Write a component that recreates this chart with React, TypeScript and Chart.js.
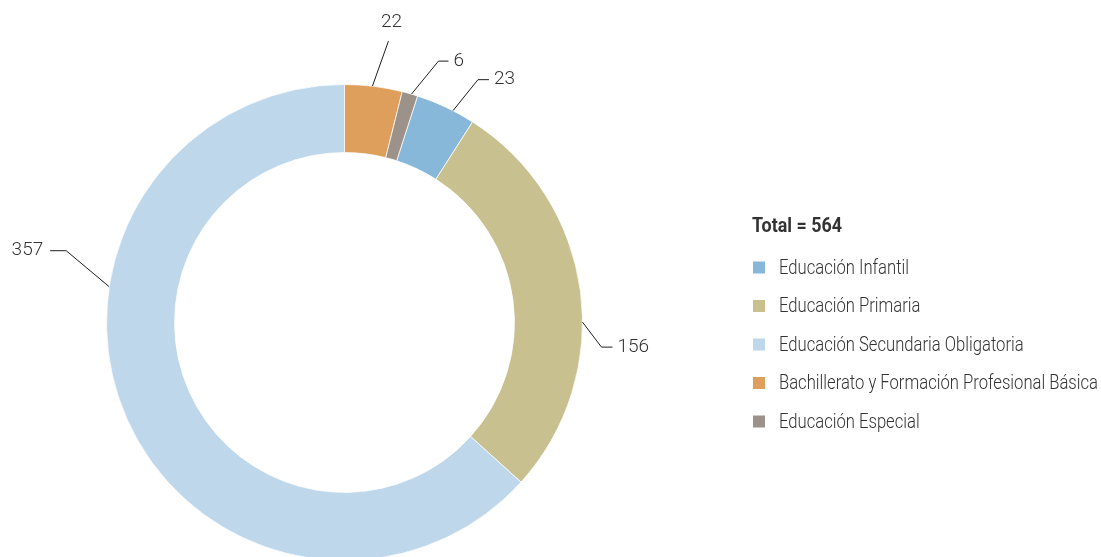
import { useEffect, useRef } from "react";
import { Chart, registerables } from "chart.js";

Chart.register(...registerables);

const categories = [
  "Educación Infantil",
  "Educación Primaria",
  "Educación Secundaria Obligatoria",
  "Bachillerato y Formación Profesional Básica",
  "Educación Especial",
];
const values = [23, 156, 357, 22, 6];
const colors = ["#87b8da", "#c8c08f", "#bfd7ea", "#df9f5c", "#9d928a"];
const total = values.reduce((a, b) => a + b, 0);
const legendTitle = `Total = ${total}`;
// segments drawn before "Educación Infantil" going clockwise from 12 o'clock
const leadingValues = values[3] + values[4];

// label leader layout (fraction along arc, elbow offset, tail length)
const labelAnchor = [0.63, 0.576, 0.643, 0.48, 0.6];
const leaderElbow: [number, number][] = [
  [25, -31],
  [19, 25],
  [-43, -36],
  [16, -45],
  [27, -33],
];
const leaderTail = [11, 11, -16, 0, 10];

const FONT = "Roboto, Inter, sans-serif";
const TEXT = "#333333";
const LEGEND_WIDTH = 319; // rendered width of the longest legend entry (condensed face)
const TITLE_WIDTH = 90;

function condensedText(ctx: any, text: string, x: number, y: number, align: string, sx: number) {
  ctx.save();
  ctx.translate(x, y);
  ctx.scale(sx, 1);
  ctx.textAlign = align;
  ctx.textBaseline = "middle";
  ctx.fillText(text, 0, 0);
  ctx.restore();
}

function getScale(ctx: any, font: string, text: string, target: number) {
  ctx.save();
  ctx.font = font;
  const w = ctx.measureText(text).width;
  ctx.restore();
  return target / w;
}

const leaderPlugin = {
  id: "leaderLabels",
  afterDatasetsDraw(chart: any) {
    const ctx = chart.ctx;
    const meta = chart.getDatasetMeta(0);
    ctx.save();
    ctx.strokeStyle = "#1e1e1e";
    ctx.lineWidth = 1;
    ctx.fillStyle = TEXT;
    ctx.font = `300 19px ${FONT}`;
    meta.data.forEach((arc: any, i: number) => {
      const { x, y, startAngle, endAngle, outerRadius } = arc.getProps(
        ["x", "y", "startAngle", "endAngle", "outerRadius"],
        true
      );
      const a = startAngle + labelAnchor[i] * (endAngle - startAngle);
      const ax = x + outerRadius * Math.cos(a);
      const ay = y + outerRadius * Math.sin(a);
      const ex = ax + leaderElbow[i][0];
      const ey = ay + leaderElbow[i][1];
      const tx = ex + leaderTail[i];
      ctx.beginPath();
      ctx.moveTo(ax, ay);
      ctx.lineTo(ex, ey);
      if (leaderTail[i] !== 0) ctx.lineTo(tx, ey);
      ctx.stroke();
      const label = String(values[i]);
      if (leaderTail[i] > 0) {
        condensedText(ctx, label, tx + 5, ey, "left", 1);
      } else if (leaderTail[i] < 0) {
        condensedText(ctx, label, tx - 7, ey, "right", 1);
      } else {
        condensedText(ctx, label, ex + 3, ey - 19, "center", 1);
      }
    });
    ctx.restore();
  },
};

const legendPlugin = {
  id: "sideLegend",
  afterDraw(chart: any) {
    const ctx = chart.ctx;
    const sx = getScale(ctx, `300 20px ${FONT}`, categories[3], LEGEND_WIDTH);
    const st = getScale(ctx, `bold 20px ${FONT}`, legendTitle, TITLE_WIDTH);
    const lx = 752;
    ctx.save();
    ctx.fillStyle = TEXT;
    ctx.font = `bold 20px ${FONT}`;
    condensedText(ctx, legendTitle, lx, 227, "left", st);
    ctx.font = `300 20px ${FONT}`;
    chart.data.labels.forEach((lab: string, i: number) => {
      const cy = 267.5 + i * 38.5;
      ctx.fillStyle = chart.data.datasets[0].backgroundColor[i];
      ctx.fillRect(lx + 1, cy - 6, 12, 12);
      ctx.fillStyle = TEXT;
      condensedText(ctx, lab, lx + 27, cy + 1, "left", sx);
    });
    ctx.restore();
  },
};

export default function App() {
  const ref = useRef<HTMLCanvasElement>(null);
  useEffect(() => {
    if (!ref.current) return;
    const chart = new Chart(ref.current, {
      type: "doughnut",
      data: {
        labels: categories,
        datasets: [
          {
            data: values,
            backgroundColor: colors,
            borderColor: "rgba(255,255,255,0.75)",
            borderWidth: 1,
          },
        ],
      },
      options: {
        responsive: false,
        animation: false,
        rotation: (leadingValues / total) * 360,
        cutout: "71.4%",
        layout: { padding: { left: 106, top: 84, right: 518, bottom: 39 } },
        plugins: {
          legend: { display: false },
          tooltip: { enabled: false },
        },
      },
      plugins: [leaderPlugin, legendPlugin],
    });
    return () => chart.destroy();
  }, []);
  return (
    <div style={{ position: "fixed", left: 0, top: 0, width: 1101, height: 557, overflow: "hidden", background: "#fff" }}>
      <canvas ref={ref} width={1101} height={600} style={{ display: "block", width: 1101, height: 600 }} />
    </div>
  );
}
